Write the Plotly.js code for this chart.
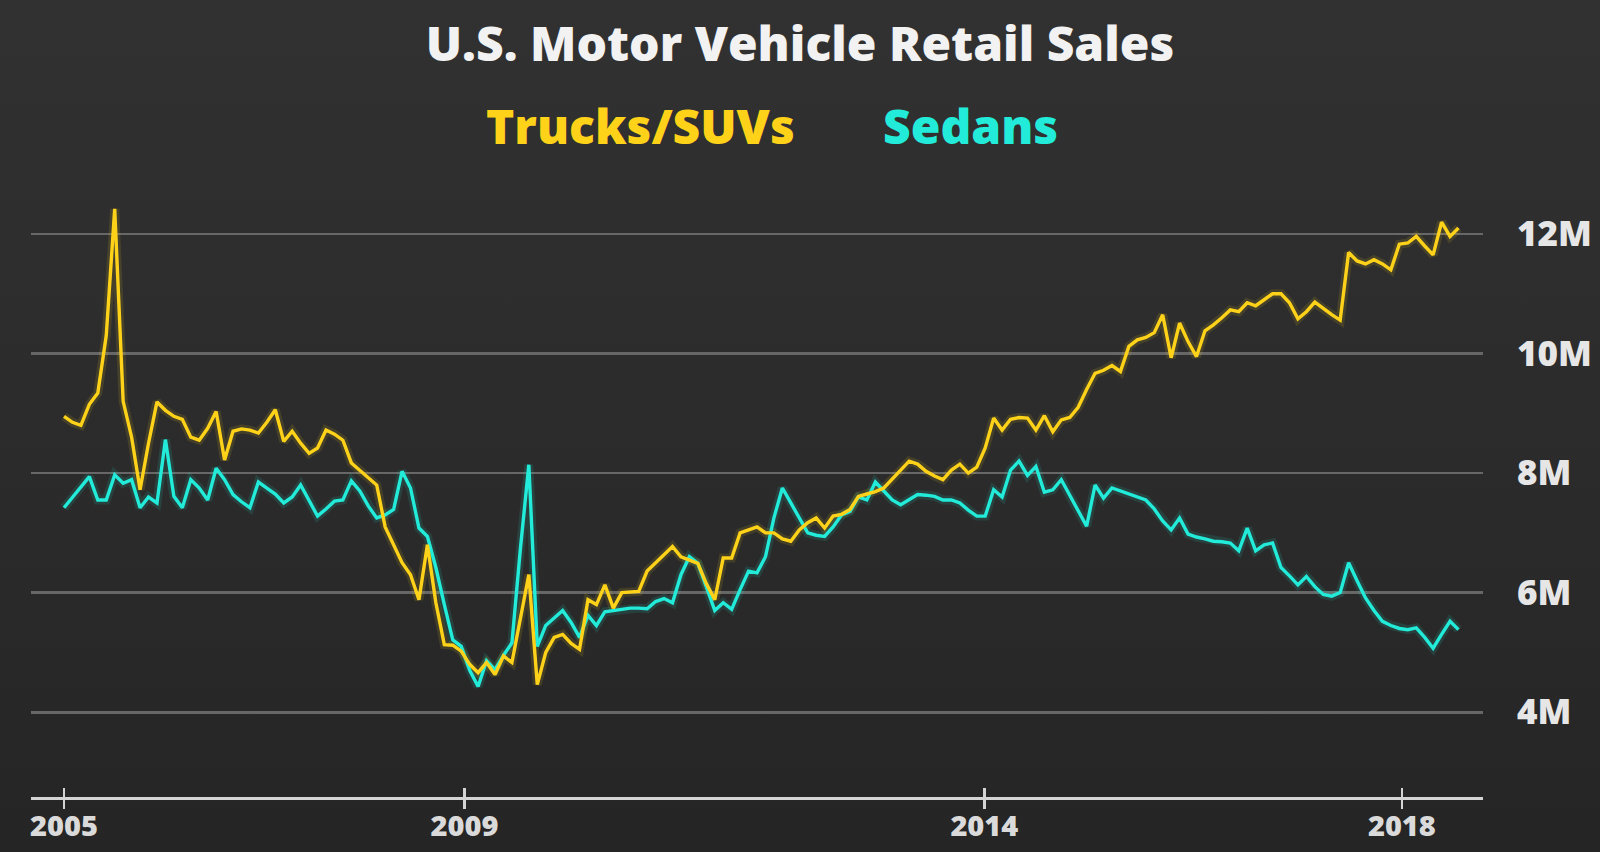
<!DOCTYPE html>
<html>
<head>
<meta charset="utf-8">
<script src="https://cdn.plot.ly/plotly-3.0.1.min.js"></script>
<style>
  html, body { margin: 0; padding: 0; width: 1600px; height: 852px; overflow: hidden;
    background: linear-gradient(180deg, #313131 0%, #2b2b2b 55%, #252525 100%); }
  #chart { width: 1600px; height: 852px; }
</style>
</head>
<body>
<div id="chart"></div>
<script>
// Monthly retail sales (millions, SAAR), Jan 2005 onward
const trucks = [
  8.95, 8.85, 8.8, 9.15, 9.34, 10.3, 12.42, 9.2, 8.6, 7.72, 8.5, 9.19, 9.05, 8.95, 8.9, 8.6, 8.55, 8.75, 9.03, 8.22, 8.7, 8.74, 8.72, 8.67, 8.85, 9.06, 8.53,
  8.7, 8.5, 8.33, 8.42, 8.72, 8.65, 8.55, 8.17, 8.05, 7.92, 7.8, 7.1, 6.8, 6.5, 6.3, 5.88, 6.8, 5.83, 5.13, 5.12, 5.02, 4.8, 4.66, 4.83, 4.63, 4.94, 4.83, 5.6, 6.3,
  4.46, 5.0, 5.25, 5.3, 5.15, 5.05, 5.88, 5.8, 6.13, 5.74, 6.0, 6.01, 6.02, 6.36, 6.5, 6.62, 6.77, 6.6, 6.55, 6.49, 6.15, 5.88, 6.58, 6.58, 7.0, 7.05, 7.1, 7.0,
  7.0, 6.9, 6.86, 7.05, 7.17, 7.25, 7.08, 7.28, 7.31, 7.39, 7.61, 7.65, 7.69, 7.75, 7.9, 8.05, 8.2, 8.15, 8.03, 7.95, 7.89, 8.05, 8.15, 8.0, 8.1, 8.42, 8.92, 8.72, 8.9,
  8.93, 8.92, 8.72, 8.96, 8.69, 8.89, 8.93, 9.1, 9.4, 9.67, 9.72, 9.8, 9.7, 10.12, 10.23, 10.27, 10.35, 10.65, 9.93, 10.51, 10.2, 9.95, 10.38, 10.48, 10.6, 10.73, 10.7, 10.85,
  10.8, 10.9, 11.0, 11.0, 10.85, 10.58, 10.7, 10.86, 10.75, 10.65, 10.56, 11.69, 11.55, 11.5, 11.57, 11.5, 11.4, 11.83, 11.85, 11.96, 11.8, 11.65, 12.2, 11.96, 12.1
];
const sedans = [
  7.42, 7.6, 7.78, 7.94, 7.55, 7.55, 7.97, 7.83, 7.89, 7.42, 7.6, 7.5, 8.56, 7.61, 7.42, 7.89, 7.75, 7.55, 8.08, 7.89, 7.64, 7.52, 7.42, 7.85, 7.75, 7.65, 7.5,
  7.6, 7.8, 7.55, 7.28, 7.4, 7.53, 7.55, 7.87, 7.7, 7.45, 7.25, 7.3, 7.39, 8.03, 7.75, 7.08, 6.94, 6.42, 5.8, 5.21, 5.1, 4.7, 4.43, 4.86, 4.71, 4.95, 5.16, 6.73, 8.14,
  5.1, 5.45, 5.57, 5.7, 5.5, 5.25, 5.62, 5.45, 5.68, 5.7, 5.72, 5.74, 5.74, 5.73, 5.85, 5.9, 5.83, 6.3, 6.6, 6.49, 6.1, 5.7, 5.83, 5.72, 6.05, 6.36, 6.33, 6.6,
  7.25, 7.75, 7.5, 7.25, 7.0, 6.96, 6.94, 7.1, 7.3, 7.36, 7.6, 7.55, 7.85, 7.7, 7.55, 7.47, 7.55, 7.64, 7.63, 7.61, 7.55, 7.55, 7.5, 7.38, 7.28, 7.28, 7.72, 7.6, 8.05,
  8.2, 7.96, 8.11, 7.68, 7.72, 7.89, 7.62, 7.35, 7.11, 7.8, 7.58, 7.75, 7.7, 7.65, 7.6, 7.55, 7.4, 7.2, 7.05, 7.25, 6.98, 6.93, 6.9, 6.86, 6.85, 6.83, 6.7, 7.08,
  6.7, 6.8, 6.83, 6.42, 6.28, 6.13, 6.27, 6.1, 5.97, 5.94, 6.0, 6.5, 6.2, 5.91, 5.7, 5.52, 5.45, 5.4, 5.38, 5.41, 5.25, 5.07, 5.3, 5.52, 5.38
];
const seriesNames = ['Trucks/SUVs', 'Sedans'];
const seriesColors = ['#ffd21a', '#22ecd9'];
// x axis: months since Jan 2005
const monthIndex = trucks.map((_, i) => i);
const xTickVals = [0, 47.4, 108.9, 158.3];
const xTickText = ['2005', '2009', '2014', '2018'];
const yTickVals = [4, 6, 8, 10, 12];
const yTickText = ['4M', '6M', '8M', '10M', '12M'];

const FONT = '"Open Sans", Lato, "DejaVu Sans", sans-serif';

function glow(y, color) {
  return { x: monthIndex, y: y, type: 'scatter', mode: 'lines', hoverinfo: 'skip', showlegend: false,
    line: { color: color, width: 9, shape: 'linear' }, opacity: 0.12 };
}
function line(y, color, name) {
  return { x: monthIndex, y: y, type: 'scatter', mode: 'lines', name: name, showlegend: false,
    line: { color: color, width: 3.4, shape: 'linear' } };
}

const data = [
  glow(sedans, seriesColors[1]),
  glow(trucks, seriesColors[0]),
  line(sedans, seriesColors[1], seriesNames[1]),
  line(trucks, seriesColors[0], seriesNames[0]),
  // overlay axis for the inward half of the crossing tick marks
  { x: [xTickVals[0]], y: [null], xaxis: 'x2', yaxis: 'y', type: 'scatter', mode: 'lines',
    hoverinfo: 'skip', showlegend: false }
];

const xRange = [-3.905, 167.9];

const layout = {
  width: 1600, height: 852,
  paper_bgcolor: 'rgba(0,0,0,0)', plot_bgcolor: 'rgba(0,0,0,0)',
  margin: { l: 31, r: 117, t: 180, b: 55 },
  font: { family: FONT, color: '#dcdcdc' },
  title: {
    text: 'U.S. Motor Vehicle Retail Sales',
    font: { family: FONT, size: 48, color: '#f2f2f2', weight: 800 },
    x: 0.5, xref: 'container', xanchor: 'center',
    y: 0.948, yref: 'container', yanchor: 'middle'
  },
  xaxis: {
    range: xRange, showgrid: false, zeroline: false,
    showline: true, linecolor: '#d4d4d4', linewidth: 3,
    tickmode: 'array', tickvals: xTickVals, ticktext: xTickText,
    ticks: 'outside', ticklen: 9, tickwidth: 2.5, tickcolor: '#d4d4d4',
    ticklabelstandoff: -8,
    tickfont: { family: FONT, size: 29, color: '#dadada', weight: 800 },
    fixedrange: true
  },
  xaxis2: {
    range: xRange, overlaying: 'x', anchor: 'y', side: 'bottom',
    showgrid: false, zeroline: false, showline: false,
    tickmode: 'array', tickvals: xTickVals, ticktext: ['', '', '', ''],
    ticks: 'inside', ticklen: 9, tickwidth: 2.5, tickcolor: '#d4d4d4',
    showticklabels: false, fixedrange: true
  },
  yaxis: {
    range: [2.58, 12.904], side: 'right',
    tickmode: 'array', tickvals: yTickVals, ticktext: yTickText,
    showgrid: true, gridcolor: '#676767', gridwidth: 2.8,
    zeroline: false, showline: false, ticks: '',
    ticklabelstandoff: 33,
    tickfont: { family: FONT, size: 35, color: '#e6e6e6', weight: 800 },
    fixedrange: true
  },
  annotations: [
    { text: seriesNames[0], xref: 'paper', yref: 'paper', x: 0.42, y: 1.088,
      xanchor: 'center', yanchor: 'middle', showarrow: false,
      font: { family: FONT, size: 48, color: seriesColors[0], weight: 800 } },
    { text: seriesNames[1], xref: 'paper', yref: 'paper', x: 0.647, y: 1.088,
      xanchor: 'center', yanchor: 'middle', showarrow: false,
      font: { family: FONT, size: 48, color: seriesColors[1], weight: 800 } }
  ],
  showlegend: false
};

Plotly.newPlot('chart', data, layout, { displayModeBar: false, staticPlot: true });
</script>
</body>
</html>
